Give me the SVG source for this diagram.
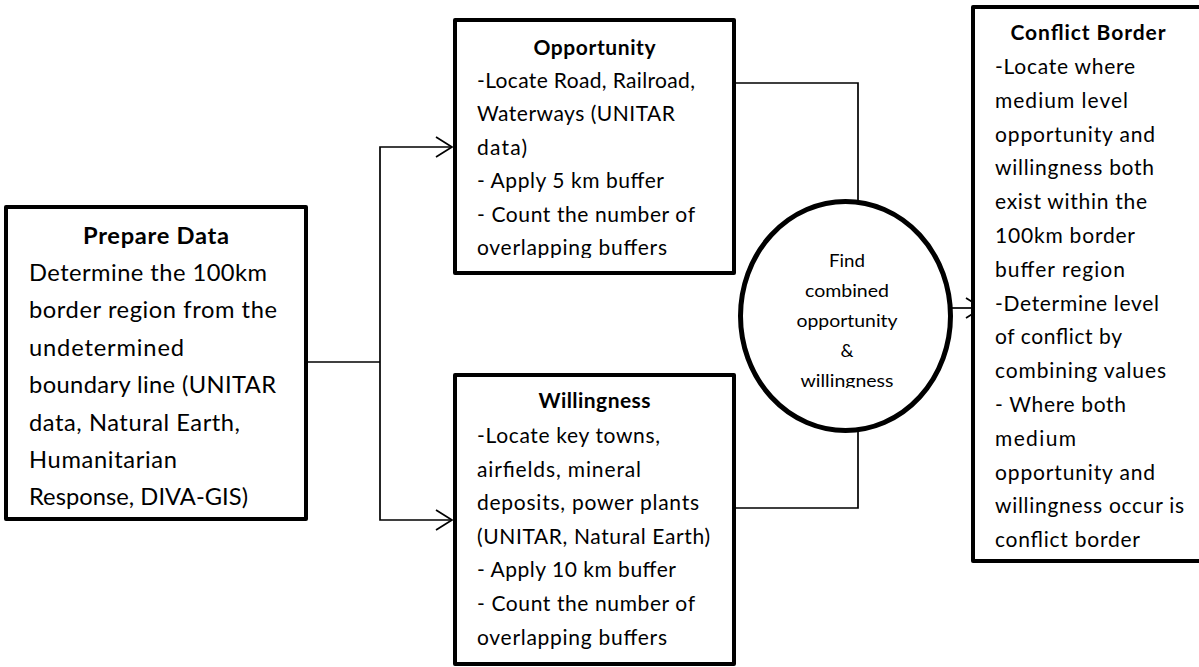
<svg xmlns="http://www.w3.org/2000/svg" width="1199" height="667" viewBox="0 0 1199 667">
<style>
.box{fill:#fff;stroke:#000;stroke-width:4;stroke-linejoin:round}
.ell{fill:#fff;stroke:#000;stroke-width:5}
.con{fill:none;stroke:#000;stroke-width:1.7}
.t{font-family:Lato,"Open Sans","Liberation Sans",sans-serif;fill:#000}
.big{font-size:23.7px}
.mid{font-size:21px}
.sm{font-size:17px}
.b{font-weight:bold}
</style>
<defs>
<marker id="arr" markerWidth="20" markerHeight="24" refX="17" refY="11" orient="auto" markerUnits="userSpaceOnUse">
<path d="M1,1 L17,11 L1,21" fill="none" stroke="#000" stroke-width="1.7"/>
</marker>
<clipPath id="clipOpp"><rect x="455" y="20" width="279" height="238"/></clipPath>
<clipPath id="clipEll"><rect x="740" y="200" width="212" height="188"/></clipPath>
</defs>
<g id="connectors">
<polyline class="con" points="308,362 380,362"/>
<polyline class="con" points="380,362 380,147 452,147" marker-end="url(#arr)"/>
<polyline class="con" points="380,362 380,520 452,520" marker-end="url(#arr)"/>
<polyline class="con" points="736,83 858,83 858,201"/>
<polyline class="con" points="736,508 858,508 858,431"/>
<polyline class="con" points="952,308 982,308" marker-end="url(#arr)"/>
</g>
<g id="prepare">
<rect class="box" x="6" y="207" width="300" height="312"/>
<text class="t big b" x="156" y="244" text-anchor="middle" textLength="146">Prepare Data</text>
<text class="t big" x="29" y="281" textLength="238">Determine the 100km</text>
<text class="t big" x="29" y="318.4" textLength="248">border region from the</text>
<text class="t big" x="29" y="355.8" textLength="155">undetermined</text>
<text class="t big" x="29" y="393.2" textLength="247">boundary line (UNITAR</text>
<text class="t big" x="29" y="430.6" textLength="211">data, Natural Earth,</text>
<text class="t big" x="29" y="468" textLength="148">Humanitarian</text>
<text class="t big" x="29" y="505.4" textLength="219">Response, DIVA-GIS)</text>
</g>
<g id="opportunity">
<rect class="box" x="455" y="20" width="279" height="253"/>
<g clip-path="url(#clipOpp)">
<text class="t mid b" x="594.5" y="55" text-anchor="middle" textLength="122">Opportunity</text>
<text class="t mid" x="477" y="88" textLength="218">-Locate Road, Railroad,</text>
<text class="t mid" x="477" y="121.4" textLength="198">Waterways (UNITAR</text>
<text class="t mid" x="477" y="154.8" textLength="50">data)</text>
<text class="t mid" x="477" y="188.2" textLength="187">- Apply 5 km buffer</text>
<text class="t mid" x="477" y="221.6" textLength="218">- Count the number of</text>
<text class="t mid" x="477" y="255" textLength="190">overlapping buffers</text>
</g>
</g>
<g id="willingness">
<rect class="box" x="455" y="375" width="279" height="289"/>
<text class="t mid b" x="594.5" y="408" text-anchor="middle" textLength="112">Willingness</text>
<text class="t mid" x="477" y="443" textLength="183">-Locate key towns,</text>
<text class="t mid" x="477" y="476.6" textLength="164">airfields, mineral</text>
<text class="t mid" x="477" y="510.2" textLength="222">deposits, power plants</text>
<text class="t mid" x="477" y="543.8" textLength="233">(UNITAR, Natural Earth)</text>
<text class="t mid" x="477" y="577.4" textLength="199">- Apply 10 km buffer</text>
<text class="t mid" x="477" y="611" textLength="218">- Count the number of</text>
<text class="t mid" x="477" y="644.6" textLength="190">overlapping buffers</text>
</g>
<g id="combine">
<ellipse class="ell" cx="845.5" cy="316" rx="105" ry="114.5"/>
<g clip-path="url(#clipEll)">
<text class="t sm" x="847" y="267" text-anchor="middle" textLength="36" lengthAdjust="spacingAndGlyphs">Find</text>
<text class="t sm" x="847" y="297" text-anchor="middle" textLength="84" lengthAdjust="spacingAndGlyphs">combined</text>
<text class="t sm" x="847" y="327" text-anchor="middle" textLength="101" lengthAdjust="spacingAndGlyphs">opportunity</text>
<text class="t sm" x="847" y="357" text-anchor="middle" textLength="13" lengthAdjust="spacingAndGlyphs">&amp;</text>
<text class="t sm" x="847" y="387" text-anchor="middle" textLength="93" lengthAdjust="spacingAndGlyphs">willingness</text>
</g>
</g>
<g id="conflict">
<rect class="box" x="973" y="7" width="240" height="554"/>
<text class="t mid b" x="1088" y="40" text-anchor="middle" textLength="155">Conflict Border</text>
<text class="t mid" x="995" y="74" textLength="140">-Locate where</text>
<text class="t mid" x="995" y="107.8" textLength="133">medium level</text>
<text class="t mid" x="995" y="141.6" textLength="160">opportunity and</text>
<text class="t mid" x="995" y="175.4" textLength="159">willingness both</text>
<text class="t mid" x="995" y="209.2" textLength="152">exist within the</text>
<text class="t mid" x="995" y="243" textLength="140">100km border</text>
<text class="t mid" x="995" y="276.8" textLength="130">buffer region</text>
<text class="t mid" x="995" y="310.6" textLength="164">-Determine level</text>
<text class="t mid" x="995" y="344.4" textLength="127">of conflict by</text>
<text class="t mid" x="995" y="378.2" textLength="171">combining values</text>
<text class="t mid" x="995" y="412" textLength="131">- Where both</text>
<text class="t mid" x="995" y="445.8" textLength="81">medium</text>
<text class="t mid" x="995" y="479.6" textLength="160">opportunity and</text>
<text class="t mid" x="995" y="513.4" textLength="189">willingness occur is</text>
<text class="t mid" x="995" y="547.2" textLength="145">conflict border</text>
</g>
</svg>
